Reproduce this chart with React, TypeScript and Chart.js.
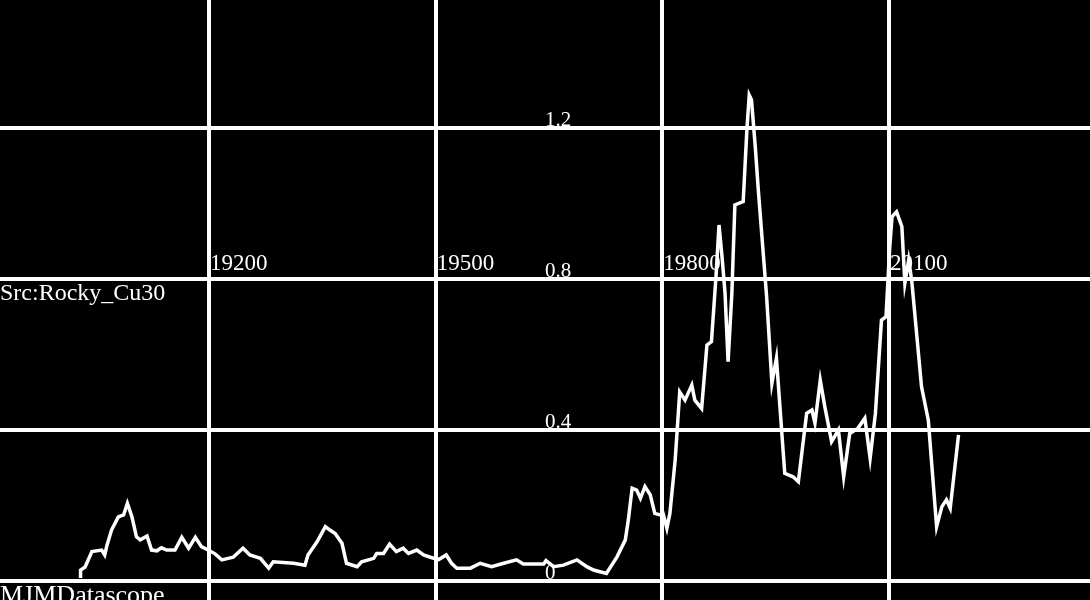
import React, { useEffect, useRef } from "react";
import { Chart, registerables } from "chart.js";

Chart.register(...registerables);

const xValues: number[] = [
  19030, 19030, 19036, 19045, 19058, 19062, 19065, 19071, 19080, 19087,
  19092, 19098, 19104, 19109, 19118, 19124, 19131, 19137, 19144, 19155,
  19164, 19173, 19182, 19190, 19199, 19208, 19217, 19232, 19245, 19254,
  19268, 19279, 19285, 19312, 19327, 19331, 19343, 19354, 19360, 19367,
  19376, 19382, 19396, 19402, 19418, 19422, 19431, 19439, 19448, 19457,
  19464, 19475, 19484, 19493, 19504, 19514, 19521, 19528, 19546, 19559,
  19574, 19590, 19607, 19616, 19643, 19646, 19656, 19669, 19687, 19700,
  19709, 19726, 19740, 19751, 19755, 19760, 19766, 19771, 19777, 19784,
  19790, 19797, 19801, 19806, 19810, 19817, 19823, 19830, 19839, 19843,
  19852, 19859, 19865, 19871, 19875, 19879, 19883, 19887, 19892, 19896,
  19907, 19912, 19915, 19918, 19923, 19927, 19938, 19945, 19951, 19962,
  19973, 19980, 19991, 19998, 20002, 20009, 20015, 20024, 20033, 20040,
  20048, 20059, 20068, 20075, 20082, 20090, 20096, 20101, 20104, 20110,
  20117, 20121, 20126, 20130, 20143, 20152, 20163, 20170, 20176, 20181,
  20192,
];

const yValues: number[] = [
  0.008, 0.029, 0.037, 0.078, 0.082, 0.069, 0.095, 0.135, 0.17, 0.175,
  0.206, 0.17, 0.117, 0.109, 0.119, 0.082, 0.08, 0.088, 0.082, 0.082,
  0.116, 0.087, 0.116, 0.091, 0.082, 0.072, 0.056, 0.063, 0.087, 0.069,
  0.06, 0.034, 0.051, 0.047, 0.042, 0.069, 0.104, 0.144, 0.135, 0.126,
  0.1, 0.047, 0.038, 0.051, 0.06, 0.073, 0.073, 0.098, 0.078, 0.087,
  0.073, 0.082, 0.069, 0.063, 0.057, 0.069, 0.047, 0.034, 0.034, 0.047,
  0.038, 0.047, 0.056, 0.045, 0.045, 0.054, 0.038, 0.042, 0.056, 0.038,
  0.029, 0.02, 0.064, 0.109, 0.162, 0.246, 0.241, 0.219, 0.25, 0.228,
  0.179, 0.175, 0.179, 0.14, 0.179, 0.321, 0.501, 0.479, 0.519, 0.479,
  0.457, 0.625, 0.634, 0.806, 0.943, 0.859, 0.762, 0.581, 0.762, 0.996,
  1.005, 1.199, 1.287, 1.274, 1.15, 1.036, 0.753, 0.524, 0.59, 0.285,
  0.276, 0.263, 0.444, 0.453, 0.418, 0.532, 0.462, 0.369, 0.4, 0.276,
  0.391, 0.405, 0.431, 0.325, 0.444, 0.691, 0.7, 0.886, 0.965, 0.978,
  0.939, 0.789, 0.85, 0.797, 0.515, 0.426, 0.144, 0.197, 0.215, 0.193,
  0.387,
];

const xTicks: number[] = [19200, 19500, 19800, 20100];
const yTicks: number[] = [0, 0.4, 0.8, 1.2];
const xTickLabels: string[] = ["19200", "19500", "19800", "20100"];
const yTickLabels: string[] = ["0", "0.4", "0.8", "1.2"];
const sourceLabel = "Src:Rocky_Cu30";
const brandLabel = "MJMDatascope";

const X_MIN = 18923.4;
const X_MAX = 20366;
const Y_MIN = -0.0503;
const Y_MAX = 1.539;

const labelPlugin = {
  id: "insideLabels",
  beforeDatasetsDraw(chart: any) {
    const ctx = chart.ctx;
    const xs = chart.scales.x;
    const ys = chart.scales.y;
    ctx.save();
    ctx.fillStyle = "#ffffff";
    ctx.textBaseline = "alphabetic";
    ctx.textAlign = "left";
    // x tick labels, just above the 0.8 gridline
    ctx.font = "23px 'Liberation Serif'";
    const xRowY = ys.getPixelForValue(0.8) - 9;
    xTicks.forEach((v, i) => {
      ctx.fillText(xTickLabels[i], xs.getPixelForValue(v) + 1, xRowY);
    });
    // y tick labels, centred column
    ctx.font = "21px 'Liberation Serif'";
    const yColX = xs.left + xs.width / 2;
    yTicks.forEach((v, i) => {
      ctx.fillText(yTickLabels[i], yColX, ys.getPixelForValue(v) - 2);
    });
    // captions
    ctx.font = "24px 'Liberation Serif'";
    ctx.fillText(sourceLabel, 0, ys.getPixelForValue(0.8) + 21);
    ctx.font = "26px 'Liberation Serif'";
    ctx.fillText(brandLabel, 0, ys.getPixelForValue(0) + 22);
    ctx.restore();
  },
};

export default function App() {
  const canvasRef = useRef<HTMLCanvasElement | null>(null);

  useEffect(() => {
    document.body.style.margin = "0";
    document.body.style.background = "#000";
    const canvas = canvasRef.current;
    if (!canvas) return;
    const chart = new Chart(canvas, {
      type: "line",
      data: {
        datasets: [
          {
            data: xValues.map((x, i) => ({ x, y: yValues[i] })),
            borderColor: "#ffffff",
            borderWidth: 3.5,
            pointRadius: 0,
            tension: 0,
            fill: false,
          },
        ],
      },
      options: {
        animation: false,
        responsive: false,
        maintainAspectRatio: false,
        parsing: false,
        layout: { padding: 0 },
        plugins: {
          legend: { display: false },
          tooltip: { enabled: false },
          title: { display: false },
        },
        scales: {
          x: {
            type: "linear",
            min: X_MIN,
            max: X_MAX,
            border: { display: false },
            grid: { color: "#ffffff", lineWidth: 4, drawTicks: false },
            ticks: { display: false },
            afterBuildTicks: (scale: any) => {
              scale.ticks = xTicks.map((v) => ({ value: v }));
            },
            afterFit: (scale: any) => {
              scale.height = 0;
            },
          },
          y: {
            type: "linear",
            min: Y_MIN,
            max: Y_MAX,
            border: { display: false },
            grid: { color: "#ffffff", lineWidth: 4, drawTicks: false },
            ticks: { display: false },
            afterBuildTicks: (scale: any) => {
              scale.ticks = yTicks.map((v) => ({ value: v }));
            },
            afterFit: (scale: any) => {
              scale.width = 0;
            },
          },
        },
      },
      plugins: [labelPlugin],
    });
    return () => chart.destroy();
  }, []);

  return (
    <div
      style={{
        position: "fixed",
        left: 0,
        top: 0,
        width: 1090,
        height: 600,
        background: "#000000",
      }}
    >
      <canvas ref={canvasRef} width={1090} height={600} style={{ display: "block" }} />
    </div>
  );
}
